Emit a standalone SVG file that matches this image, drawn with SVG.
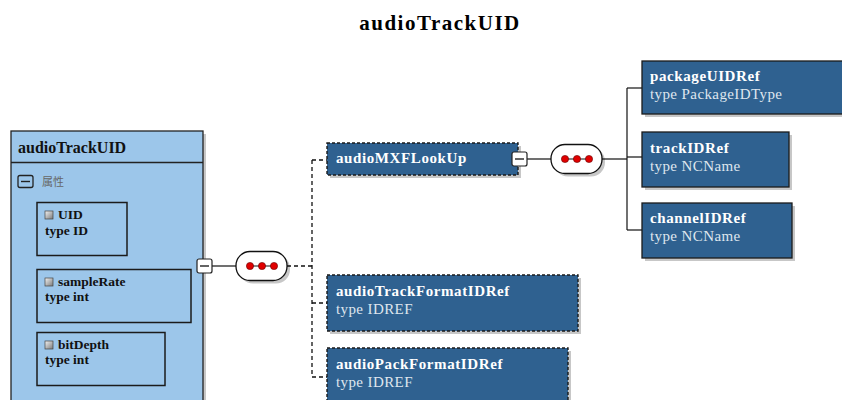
<svg xmlns="http://www.w3.org/2000/svg" width="842" height="400" viewBox="0 0 842 400">
  <style>
    .title { font-family: "Liberation Serif", "Times New Roman", serif; font-weight: bold; font-size: 21px; letter-spacing: 1.5px; fill: #000; }
    .name { font-family: "Liberation Serif", "Times New Roman", serif; font-weight: bold; font-size: 15px; letter-spacing: 0.6px; fill: #ffffff; }
    .type { font-family: "Liberation Serif", "Times New Roman", serif; font-size: 15px; letter-spacing: 0.4px; fill: #dfe6ee; }
    .attr { font-family: "Liberation Serif", "Times New Roman", serif; font-weight: bold; font-size: 13.5px; fill: #111; }
    .cjk { font-family: "Noto Sans CJK SC", sans-serif; font-size: 11px; fill: #666; }
    .elem { fill: #2f6190; stroke: #1b1b1b; stroke-width: 1.3; }
    .opt { fill: #2f6190; stroke: #1b1b1b; stroke-width: 1.4; stroke-dasharray: 3 2; }
    .abox { fill: none; stroke: #1b1b1b; stroke-width: 1.5; }
    .shadow { fill: #000; opacity: 0.22; }
    .wire { fill: none; stroke: #111; stroke-width: 1.2; }
    .dwire { fill: none; stroke: #111; stroke-width: 1.3; stroke-dasharray: 4 3; }
    .seq { fill: #ffffff; stroke: #111; stroke-width: 1.3; }
    .dot { fill: #e00000; stroke: #600; stroke-width: 0.6; }
    .toggle { fill: #ffffff; stroke: #222; stroke-width: 1.2; }
  </style>
  <defs>
    <linearGradient id="chip" x1="0" y1="0" x2="1" y2="1">
      <stop offset="0" stop-color="#f4f4f4"/>
      <stop offset="1" stop-color="#7a7a7a"/>
    </linearGradient>
    <g id="seqIcon">
      <rect class="shadow" x="3" y="3" width="51" height="29" rx="14"/>
      <rect class="seq" x="0" y="0" width="51" height="29" rx="14"/>
      <line x1="14" y1="14.5" x2="38" y2="14.5" stroke="#111" stroke-width="1"/>
      <circle class="dot" cx="14" cy="14.5" r="3.6"/>
      <circle class="dot" cx="26" cy="14.5" r="3.6"/>
      <circle class="dot" cx="38" cy="14.5" r="3.6"/>
    </g>
    <g id="minus">
      <rect class="toggle" x="0" y="0" width="15" height="14" rx="2"/>
      <line x1="3" y1="7" x2="12" y2="7" stroke="#222" stroke-width="1.4"/>
    </g>
  </defs>

  <text class="title" x="440" y="30" text-anchor="middle">audioTrackUID</text>

  <!-- connectors -->
  <g id="connectors">
    <path class="wire" d="M212 266 H237"/>
    <path class="dwire" d="M287 266 H312"/>
    <path class="dwire" d="M312 160 V377"/>
    <path class="dwire" d="M312 160 H327"/>
    <path class="dwire" d="M312 303 H327"/>
    <path class="dwire" d="M312 377 H327"/>
    <path class="wire" d="M527 159 H551"/>
    <path class="wire" d="M602 159 H627"/>
    <path class="wire" d="M627 88 V230"/>
    <path class="wire" d="M627 88 H642"/>
    <path class="wire" d="M627 157 H642"/>
    <path class="wire" d="M627 230 H642"/>
  </g>

  <!-- root element with attribute group -->
  <g id="audioTrackUID">
    <rect class="shadow" x="14" y="134" width="192" height="270"/>
    <rect x="11" y="131" width="192" height="275" fill="#9cc6ea" stroke="#222" stroke-width="1.3"/>
    <line x1="11" y1="162.5" x2="203" y2="162.5" stroke="#222" stroke-width="1.3"/>
    <text class="attr" x="18" y="153" style="font-size:16px">audioTrackUID</text>
    <rect x="18" y="175.5" width="15" height="12" rx="2" fill="none" stroke="#222" stroke-width="1.3"/>
    <line x1="21" y1="181.5" x2="30" y2="181.5" stroke="#222" stroke-width="1.4"/>
    <text class="cjk" x="42" y="186">属性</text>
    <use href="#minus" x="197" y="259"/>
  </g>

  <g id="attr-UID">
    <rect class="abox" x="37" y="202.5" width="90" height="53"/>
    <rect x="45" y="211" width="8" height="8" fill="url(#chip)" stroke="#444" stroke-width="0.7"/>
    <text class="attr" x="58" y="219">UID</text>
    <text class="attr" x="45" y="235">type  ID</text>
  </g>

  <g id="attr-sampleRate">
    <rect class="abox" x="37" y="269.5" width="154" height="53"/>
    <rect x="45" y="278" width="8" height="8" fill="url(#chip)" stroke="#444" stroke-width="0.7"/>
    <text class="attr" x="58" y="286">sampleRate</text>
    <text class="attr" x="45" y="301">type int</text>
  </g>

  <g id="attr-bitDepth">
    <rect class="abox" x="37" y="332.5" width="128" height="53"/>
    <rect x="45" y="341" width="8" height="8" fill="url(#chip)" stroke="#444" stroke-width="0.7"/>
    <text class="attr" x="58" y="349">bitDepth</text>
    <text class="attr" x="45" y="364">type int</text>
  </g>

  <g id="sequence-main">
    <use href="#seqIcon" x="236" y="251.5"/>
  </g>

  <g id="audioMXFLookUp">
    <rect class="shadow" x="330" y="146" width="191" height="32"/>
    <rect class="opt" x="327" y="143" width="191" height="32"/>
    <text class="name" x="336" y="163">audioMXFLookUp</text>
    <use href="#minus" x="512" y="152"/>
  </g>

  <g id="sequence-lookup">
    <use href="#seqIcon" x="551" y="144.5"/>
  </g>

  <g id="packageUIDRef">
    <rect class="shadow" x="645" y="64" width="200" height="53"/>
    <rect class="elem" x="642" y="61" width="201" height="53"/>
    <text class="name" x="650" y="81">packageUIDRef</text>
    <text class="type" x="650" y="99">type PackageIDType</text>
  </g>

  <g id="trackIDRef">
    <rect class="shadow" x="645" y="135" width="147" height="55"/>
    <rect class="elem" x="642" y="132" width="147" height="55"/>
    <text class="name" x="650" y="153">trackIDRef</text>
    <text class="type" x="650" y="171">type NCName</text>
  </g>

  <g id="channelIDRef">
    <rect class="shadow" x="645" y="206" width="150" height="55"/>
    <rect class="elem" x="642" y="203" width="150" height="55"/>
    <text class="name" x="650" y="223">channelIDRef</text>
    <text class="type" x="650" y="241">type NCName</text>
  </g>

  <g id="audioTrackFormatIDRef">
    <rect class="shadow" x="330" y="278" width="251" height="56"/>
    <rect class="opt" x="327" y="275" width="251" height="56"/>
    <text class="name" x="336" y="296">audioTrackFormatIDRef</text>
    <text class="type" x="336" y="314">type IDREF</text>
  </g>

  <g id="audioPackFormatIDRef">
    <rect class="shadow" x="330" y="351" width="241" height="56"/>
    <rect class="opt" x="327" y="348" width="241" height="56"/>
    <text class="name" x="336" y="369">audioPackFormatIDRef</text>
    <text class="type" x="336" y="387">type IDREF</text>
  </g>
</svg>
